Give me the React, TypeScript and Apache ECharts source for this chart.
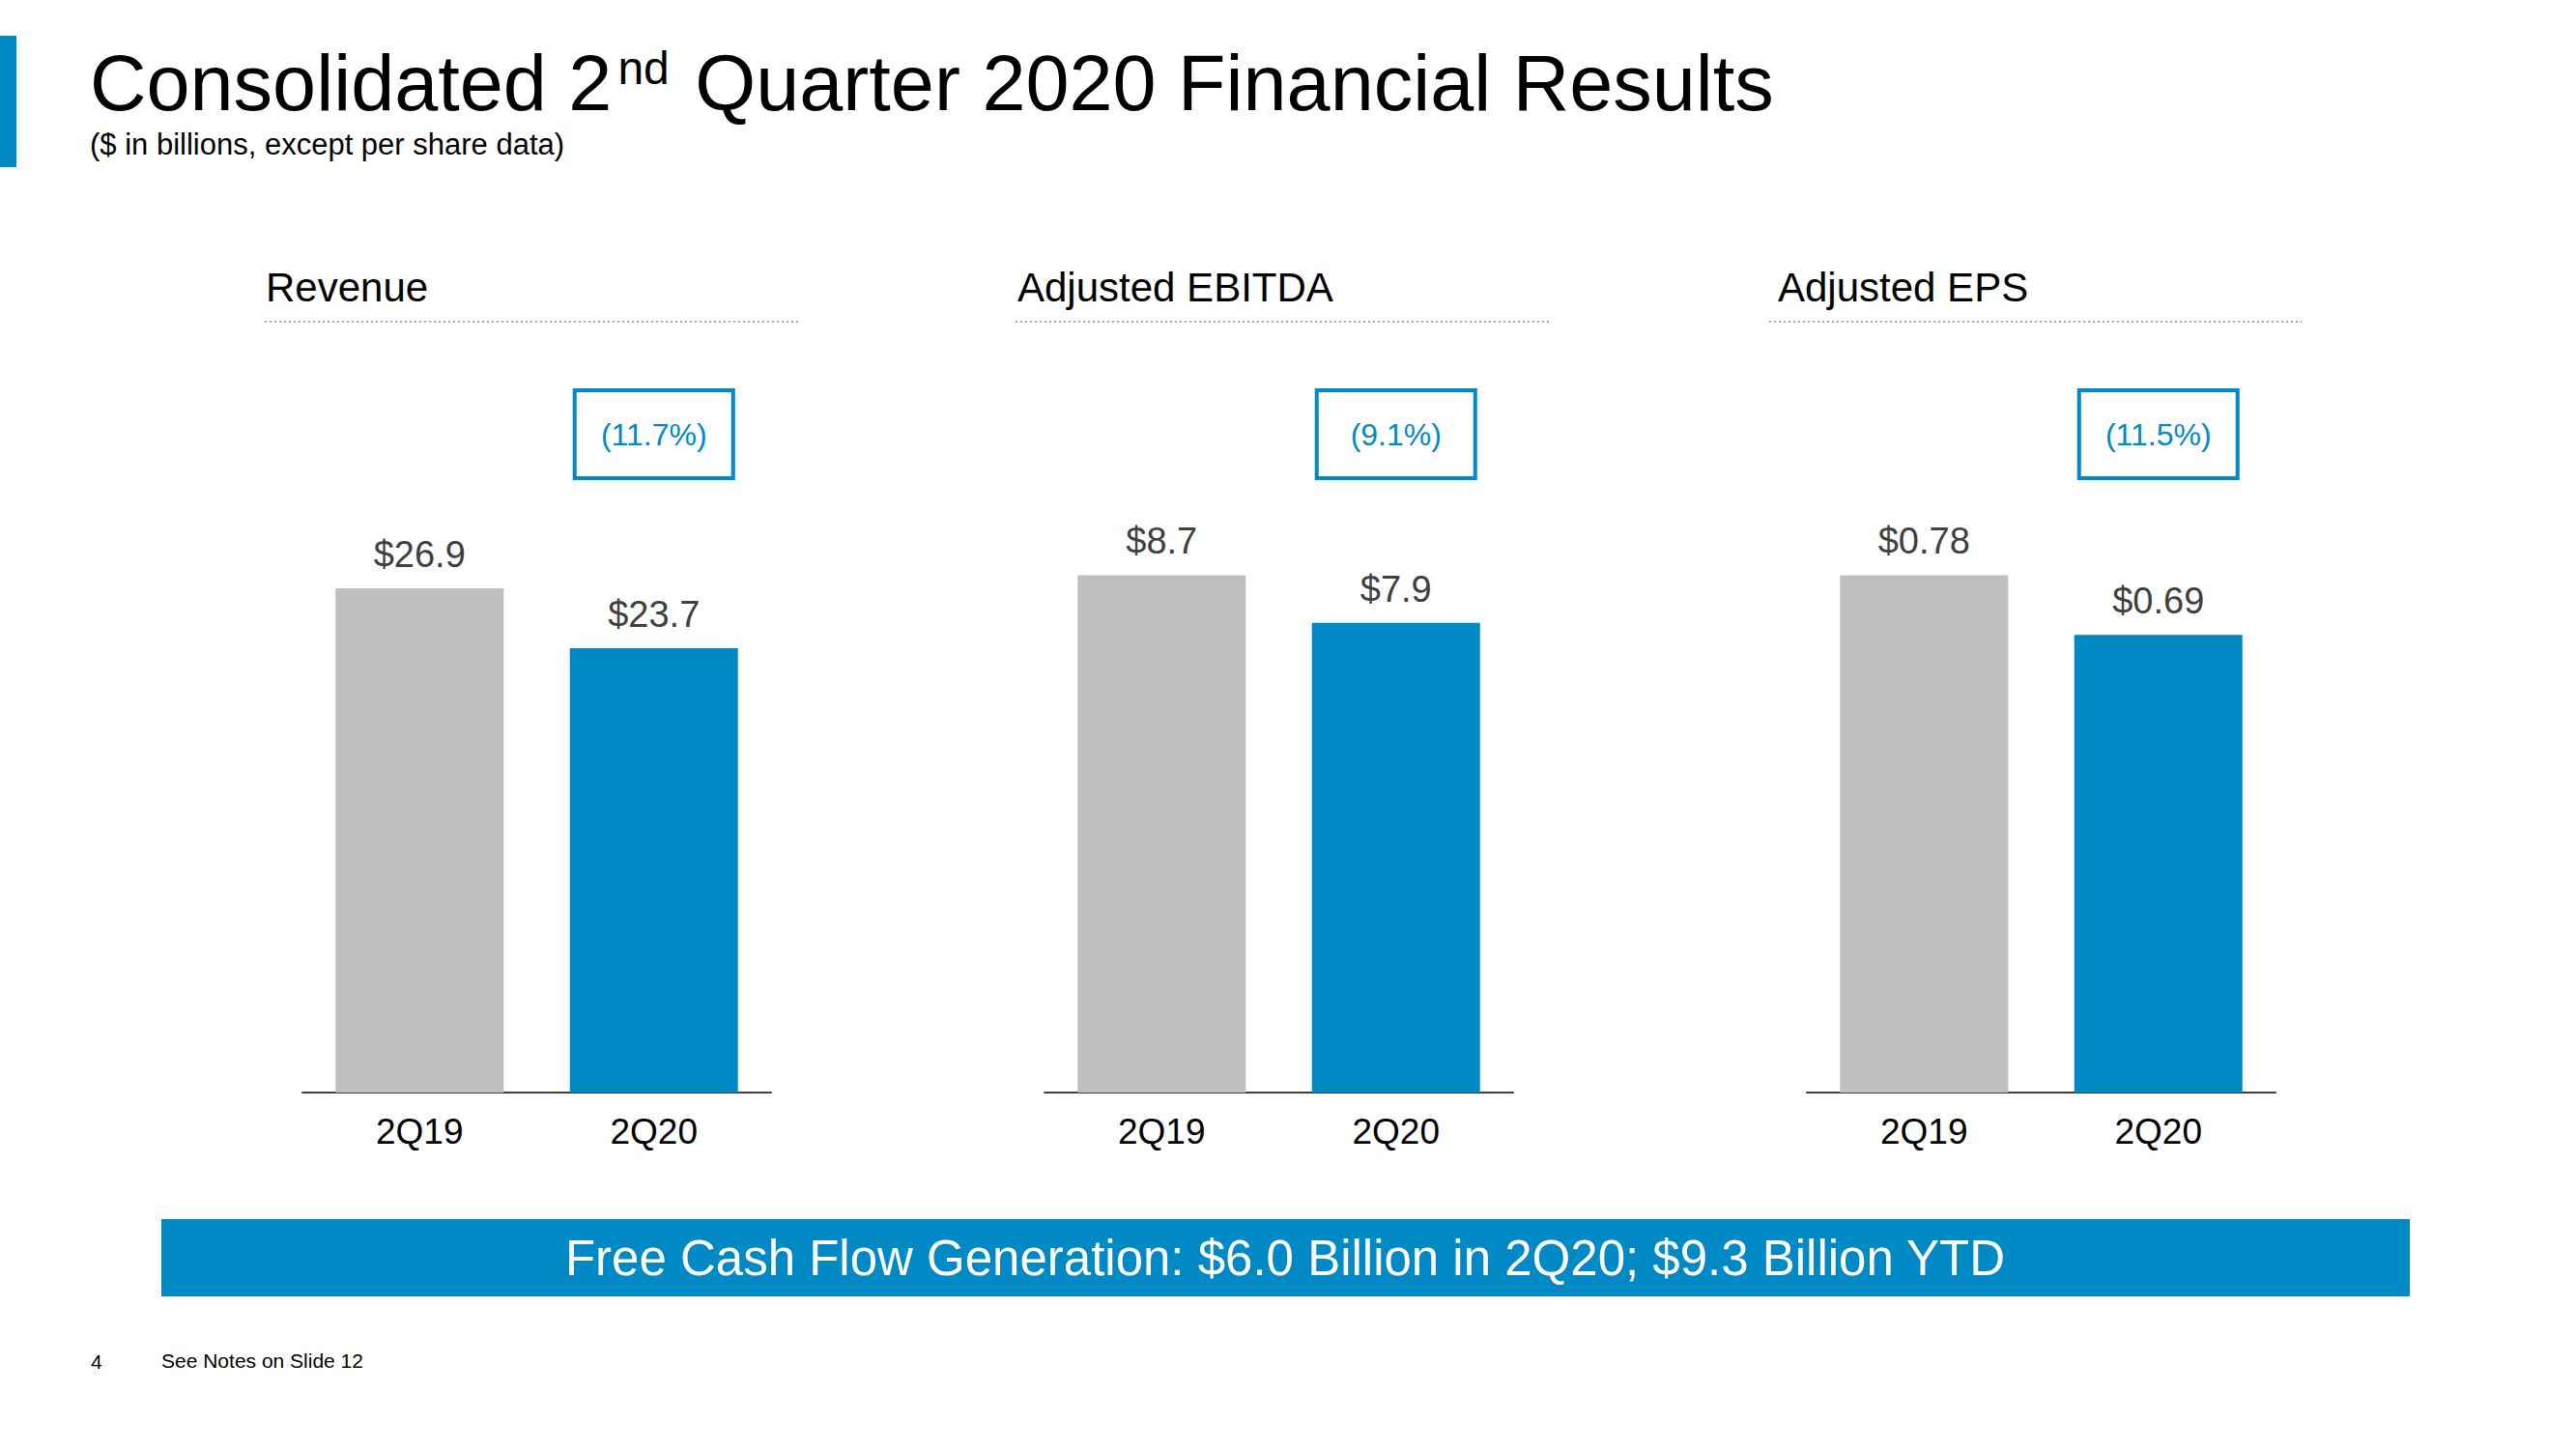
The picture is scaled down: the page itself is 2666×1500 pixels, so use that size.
import React, { useEffect, useRef } from "react";
import * as echarts from "echarts";

const categories = ["2Q19", "2Q20"];
const panelTitles = ["Revenue", "Adjusted EBITDA", "Adjusted EPS"];
const revenueValues = [26.9, 23.7];
const ebitdaValues = [8.7, 7.9];
const epsValues = [0.78, 0.69];
const changeLabels = ["(11.7%)", "(9.1%)", "(11.5%)"];
const labelDecimals = [1, 1, 2];
const titleMain = "Consolidated 2";
const titleSup = "nd";
const titleRest = " Quarter 2020 Financial Results";
const subtitle = "($ in billions, except per share data)";
const bannerText = "Free Cash Flow Generation: $6.0 Billion in 2Q20; $9.3 Billion YTD";
const pageNumber = "4";
const footNote = "See Notes on Slide 12";

// layout (pixels)
const FONT = "'Liberation Sans', Arial, sans-serif";
const BLUE = "#008AC5";
const GRAY = "#BFBFBF";
const gridLefts = [313, 1081, 1870];
const gridWidth = 485;
const gridBottomY = 1131;
const gridHeight = 600;
const axisMax = [30.92, 9.746, 0.8738];
const headerX = [275, 1053, 1840];
const dotLineX = [[274, 828], [1051, 1603], [1831, 2382]];

export default function App() {
  const ref = useRef<HTMLDivElement>(null);
  useEffect(() => {
    document.body.style.margin = "0";
    if (!ref.current) return;
    const chart = echarts.init(ref.current, null, { renderer: "svg" });
    const seriesData = [revenueValues, ebitdaValues, epsValues];

    const grids = gridLefts.map((l) => ({
      left: l,
      width: gridWidth,
      top: gridBottomY - gridHeight,
      height: gridHeight,
      containLabel: false,
    }));
    const xAxes = gridLefts.map((_, i) => ({
      type: "category",
      gridIndex: i,
      data: categories,
      axisLine: { lineStyle: { color: "#404040", width: 2 } },
      axisTick: { show: false },
      axisLabel: { color: "#000", fontSize: 37, fontFamily: FONT, margin: 22 },
    }));
    const yAxes = gridLefts.map((_, i) => ({
      type: "value",
      gridIndex: i,
      min: 0,
      max: axisMax[i],
      show: false,
      splitLine: { show: false },
    }));
    const series = seriesData.map((vals, i) => ({
      type: "bar",
      xAxisIndex: i,
      yAxisIndex: i,
      barWidth: 174,
      data: vals.map((v, j) => ({ value: v, itemStyle: { color: j === 0 ? GRAY : BLUE } })),
      label: {
        show: true,
        position: "top",
        distance: 16,
        color: "#404040",
        fontSize: 38,
        fontFamily: FONT,
        formatter: (p: any) => "$" + Number(p.value).toFixed(labelDecimals[i]),
      },
    }));

    const graphics: any[] = [
      { type: "rect", shape: { x: 0, y: 37, width: 17, height: 136 }, style: { fill: BLUE } },
      {
        type: "text",
        x: 93,
        y: 86,
        style: {
          text: "{m|" + titleMain + "}{s|" + titleSup + "}{m|" + titleRest + "}",
          verticalAlign: "middle",
          rich: {
            m: { fontSize: 81, fontFamily: FONT, fill: "#000", lineHeight: 80 },
            s: { fontSize: 48, fontFamily: FONT, fill: "#000", lineHeight: 40, verticalAlign: "top", padding: [0, 4, 0, 6] },
          },
        },
      },
      {
        type: "text",
        x: 93,
        y: 149,
        style: { text: subtitle, fontSize: 31, fontFamily: FONT, fill: "#000", verticalAlign: "middle" },
      },
      {
        type: "rect",
        shape: { x: 167, y: 1262, width: 2327, height: 80 },
        style: { fill: BLUE },
      },
      {
        type: "text",
        x: 1330,
        y: 1302,
        style: { text: bannerText, fontSize: 51, fontFamily: FONT, fill: "#fff", align: "center", verticalAlign: "middle" },
      },
      {
        type: "text",
        x: 94,
        y: 1409,
        style: { text: pageNumber, fontSize: 21, fontFamily: FONT, fill: "#000", verticalAlign: "middle" },
      },
      {
        type: "text",
        x: 167,
        y: 1408,
        style: { text: footNote, fontSize: 21, fontFamily: FONT, fill: "#000", verticalAlign: "middle" },
      },
    ];
    panelTitles.forEach((t, i) => {
      graphics.push({
        type: "text",
        x: headerX[i],
        y: 297,
        style: { text: t, fontSize: 42, fontFamily: FONT, fill: "#000", verticalAlign: "middle" },
      });
      graphics.push({
        type: "line",
        shape: { x1: dotLineX[i][0], y1: 333, x2: dotLineX[i][1], y2: 333 },
        style: { stroke: "#A6A6A6", lineWidth: 2, lineDash: [2, 3] },
      });
      const cx = gridLefts[i] + gridWidth * 0.75;
      graphics.push({
        type: "rect",
        shape: { x: cx - 82, y: 404, width: 164, height: 91 },
        style: { fill: "#fff", stroke: BLUE, lineWidth: 4 },
      });
      graphics.push({
        type: "text",
        x: cx,
        y: 450,
        style: { text: changeLabels[i], fontSize: 32, fontFamily: FONT, fill: BLUE, align: "center", verticalAlign: "middle" },
      });
    });

    chart.setOption({
      animation: false,
      backgroundColor: "#fff",
      grid: grids,
      xAxis: xAxes,
      yAxis: yAxes,
      series,
      graphic: graphics,
    });
    return () => chart.dispose();
  }, []);
  return <div ref={ref} style={{ width: 2666, height: 1500 }} />;
}
